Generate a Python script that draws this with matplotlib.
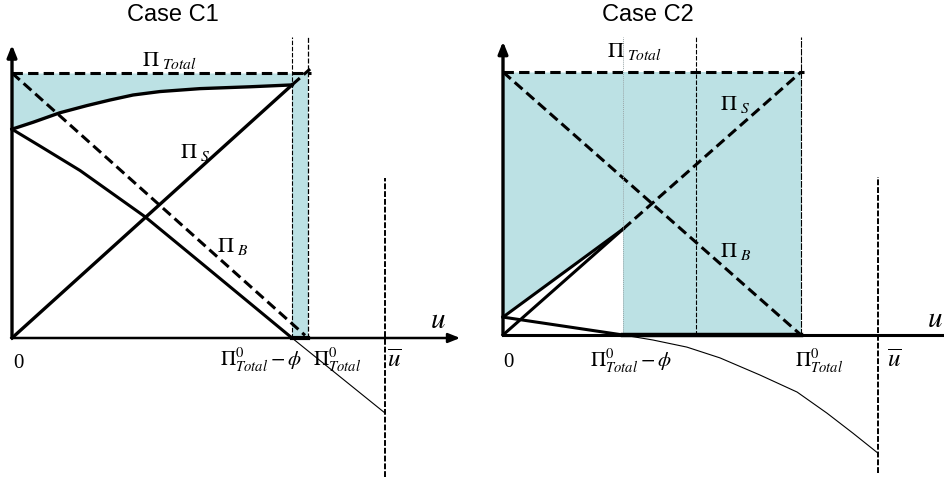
import numpy as np
import matplotlib
matplotlib.use('Agg')
import matplotlib.pyplot as plt

plt.rcParams['mathtext.fontset'] = 'stix'
plt.rcParams['font.family'] = 'Liberation Serif'

# units: u scaled so that Pi_Total^0 = 1, profits scaled so that Pi_Total = 1
pi_total = 1.0
pi_total0 = 1.0

# ── Case C1 ─────────────────────────────────────────
c1_phi = 0.946          # Pi_Total^0 - phi
c1_ubar = 1.26
c1_curve_u = [0, 0.071, 0.162, 0.253, 0.331, 0.409, 0.5, 0.635, 0.804, 0.946]
c1_curve_v = [0.788, 0.814, 0.85, 0.877, 0.898, 0.917, 0.93, 0.941, 0.948, 0.955]
c1_buyer_u = [0, 0.095, 0.230, 0.449, 0.635, 0.946]
c1_buyer_v = [0.788, 0.724, 0.632, 0.458, 0.287, 0.0]
c1_tail_u = [0.946, 1.26]
c1_tail_v = [0.0, -0.283]

# ── Case C2 ─────────────────────────────────────────
c2_phi = 0.403
c2_mid = 0.648
c2_ubar = 1.258
c2_upper_u = [0, 0.403]
c2_upper_v = [0.068, 0.403]
c2_buyer_u = [0, 0.403]
c2_buyer_v = [0.068, 0.0]
c2_tail_u = [0.403, 0.503, 0.617, 0.728, 0.862, 0.987, 1.087, 1.174, 1.258]
c2_tail_v = [0.0, -0.019, -0.046, -0.087, -0.152, -0.217, -0.297, -0.373, -0.449]

FILL = '#bce1e4'
DASH = (0, (3.4, 1.7))
W, H = 945, 479

fig = plt.figure(figsize=(W / 100, H / 100), dpi=100)


def arrow(ax, tip, start, lw=2.2):
    ax.annotate('', xy=tip, xytext=start,
                arrowprops=dict(arrowstyle='-|>,head_length=0.7,head_width=0.28',
                                lw=lw, color='black', shrinkA=0, shrinkB=0))


# ── Case C1 panel ───────────────────────────────────
ax = fig.add_axes([0, 0, 470 / W, 1])
ax.set_xlim(-12 / 296, 458 / 296)
ax.set_ylim(-141 / 265, 338 / 265)
ax.axis('off')

ax.fill_between(c1_curve_u, c1_curve_v, pi_total, color=FILL, lw=0)
ax.fill_between([c1_phi, pi_total0], 0, pi_total, color=FILL, lw=0)

ax.plot([0, pi_total0 + 0.01], [pi_total, pi_total], color='black', lw=2.2, ls=DASH)
ax.plot([0, 0.99], [pi_total, 0.01], color='black', lw=2.2, ls=DASH)
ax.plot([c1_phi, 1.007], [c1_curve_v[-1], 1.015], color='black', lw=2.2, ls=DASH)
ax.plot([0, c1_phi], [0, c1_curve_v[-1]], color='black', lw=2.4)
ax.plot(c1_curve_u, c1_curve_v, color='black', lw=2.4, solid_joinstyle='round')
ax.plot(c1_buyer_u, c1_buyer_v, color='black', lw=2.2, solid_joinstyle='round')
ax.plot(c1_tail_u, c1_tail_v, color='black', lw=0.8)
ax.plot([c1_phi, pi_total0], [0, 0], color='black', lw=3)

ax.plot([c1_phi, c1_phi], [0, 1.136], color='black', lw=0.8, ls=(0, (4, 1.5)))
ax.plot([pi_total0, pi_total0], [0, 1.136], color='black', lw=0.9, ls=(0, (4, 1.5)))
ax.plot([c1_ubar, c1_ubar], [-0.525, 0.604], color='black', lw=1.4, ls=(0, (3, 1)))

arrow(ax, (0, 1.106), (0, 0), lw=2.4)
arrow(ax, (1.514, 0), (0, 0), lw=1.8)

ax.text(0.439, 1.026, r'$\Pi_{\ Total}$', fontsize=16)
ax.text(0.568, 0.679, r'$\Pi_{\ S}$', fontsize=16)
ax.text(0.693, 0.325, r'$\Pi_{\ B}$', fontsize=16)
ax.text(1.412, 0.038, r'$u$', fontsize=21)
ax.text(0.003, -0.113, '0', fontsize=15)
ax.text(0.703, -0.109, r'$\Pi^{0}_{Total}-\phi$', fontsize=15)
ax.text(1.017, -0.109, r'$\Pi^{0}_{Total}$', fontsize=15)
ax.text(1.267, -0.109, r'$\overline{u}$', fontsize=18)

# ── Case C2 panel ───────────────────────────────────
ax = fig.add_axes([470 / W, 0, 475 / W, 1])
ax.set_xlim(-33 / 298, 442 / 298)
ax.set_ylim(-144 / 263, 335 / 263)
ax.axis('off')

ax.fill_between(c2_upper_u, c2_upper_v, pi_total, color=FILL, lw=0)
ax.fill_between([c2_phi, pi_total0], 0, pi_total, color=FILL, lw=0)

ax.plot([0, pi_total0 + 0.01], [pi_total, pi_total], color='black', lw=2.2, ls=DASH)
ax.plot([0, pi_total0], [pi_total, 0], color='black', lw=2.2, ls=DASH)
ax.plot([c2_phi, pi_total0], [c2_phi, pi_total], color='black', lw=2.2, ls=DASH)
ax.plot([0, c2_phi], [0, c2_phi], color='black', lw=2.2)
ax.plot(c2_upper_u, c2_upper_v, color='black', lw=2.2)
ax.plot(c2_buyer_u, c2_buyer_v, color='black', lw=2.2)
ax.plot(c2_tail_u, c2_tail_v, color='black', lw=0.8)

ax.plot([c2_phi, c2_phi], [0, 1.133], color='#9aa6a8', lw=0.7, ls=(0, (1, 1)))
ax.plot([c2_mid, c2_mid], [0, 1.133], color='black', lw=0.8, ls=(0, (4, 1.5)))
ax.plot([pi_total0, pi_total0], [0, 1.133], color='black', lw=0.8, ls=(0, (6, 1)))
ax.plot([c2_ubar, c2_ubar], [-0.525, 0.60], color='black', lw=1.4, ls=(0, (3, 1)))

ax.plot([0, 442 / 298], [0, 0], color='black', lw=2.2)
ax.plot([c2_phi, pi_total0], [0, 0], color='black', lw=3.2)
arrow(ax, (0, 1.116), (0, 0), lw=2.4)

ax.text(0.349, 1.057, r'$\Pi_{\ Total}$', fontsize=16)
ax.text(0.728, 0.856, r'$\Pi_{\ S}$', fontsize=16)
ax.text(0.728, 0.297, r'$\Pi_{\ B}$', fontsize=16)
ax.text(1.423, 0.03, r'$u$', fontsize=21)
ax.text(0.0, -0.122, '0', fontsize=15)
ax.text(0.292, -0.122, r'$\Pi^{0}_{Total}-\phi$', fontsize=15)
ax.text(0.98, -0.122, r'$\Pi^{0}_{Total}$', fontsize=15)
ax.text(1.289, -0.122, r'$\overline{u}$', fontsize=18)

fig.text(173 / W, 1 - 15 / H, 'Case C1', family='Liberation Sans', fontsize=17,
         ha='center', va='center')
fig.text(648 / W, 1 - 15 / H, 'Case C2', family='Liberation Sans', fontsize=17,
         ha='center', va='center')

fig.savefig('out.png', dpi=100)
